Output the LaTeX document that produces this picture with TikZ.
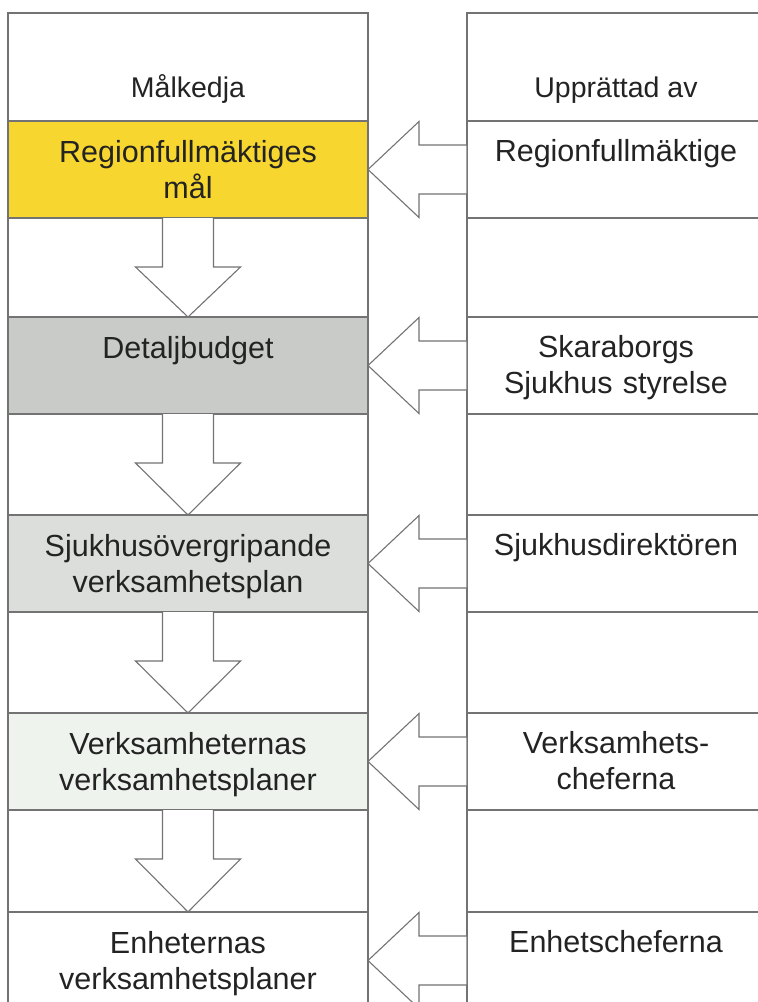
\documentclass[tikz,border=0pt]{standalone}
\usepackage{fontspec}
\setmainfont{Liberation Sans}
\usetikzlibrary{positioning, calc}
\definecolor{goalyellow}{RGB}{247,214,47}
\definecolor{budgetgray}{RGB}{201,203,200}
\definecolor{plangray}{RGB}{220,222,219}
\definecolor{planmint}{RGB}{238,243,238}
\definecolor{framegray}{RGB}{115,115,115}
\definecolor{textdark}{RGB}{35,35,35}

% block arrow down from one goal row to the next
\newcommand{\chaindown}[2]{%
  \draw[blockarr] ($(#1.south)+(-25.5,0)$) -- ++(0,49) -- ++(-27,0)
    -- (#2.north) -- ($(#1.south)+(52.5,49)$) -- ++(-27,0) -- ++(0,-49);}
% block arrow from the right column into a goal row
\newcommand{\chainleft}[2]{%
  \draw[blockarr] (#2.east) -- ++(51,-48) -- ++(0,23.5) -- ($(#1.west)+(0,-24.5)$)
    -- ($(#1.west)+(0,24.5)$) -- ($(#2.east)+(51,24.5)$) -- ++(0,23.5) -- cycle;}

\begin{document}
\begin{tikzpicture}[x=1pt, y=-1pt,
    colframe/.style={draw=framegray, line width=1.1pt, inner sep=0pt,
                     outer sep=0pt, anchor=north west},
    goalrow/.style={colframe, minimum width=360pt, minimum height=97pt},
    byrow/.style={colframe, minimum width=300pt, minimum height=97pt},
    txt/.style={anchor=base, align=center, text=textdark, inner sep=0pt,
                text width=345pt, font=\fontsize{30.5}{36.5}\selectfont},
    bytxt/.style={txt, text width=290pt},
    headtxt/.style={anchor=base, text=textdark, inner sep=0pt,
                    font=\fontsize{28.5}{34}\selectfont},
    blockarr/.style={draw=framegray, fill=white, line width=1.1pt}
]
  \useasboundingbox (0,0) rectangle (758,1002);
  \clip (0,0) rectangle (758,1002);

  % Column frames
  \node[colframe, minimum width=360pt, minimum height=1000pt] (colL) at (8,13) {};
  \node[colframe, minimum width=300pt, minimum height=1000pt] (colR) at (467,13) {};

  % Goal chain (left)
  \node[goalrow, fill=goalyellow] (goal1) at (8,121) {};
  \node[goalrow, fill=budgetgray] (goal2) at (8,317) {};
  \node[goalrow, fill=plangray] (goal3) at (8,515) {};
  \node[goalrow, fill=planmint] (goal4) at (8,713) {};
  \node[goalrow, fill=white] (goal5) at (8,912) {};

  % Set up by (right)
  \node[byrow] (by1) at (467,121) {};
  \node[byrow] (by2) at (467,317) {};
  \node[byrow] (by3) at (467,515) {};
  \node[byrow] (by4) at (467,713) {};
  \node[byrow] (by5) at (467,912) {};

  % Headers
  \node[headtxt] (hdrL) at (188,97) {Målkedja};
  \node[headtxt] (hdrR) at (616,97) {Upprättad av};

  % Texts
  \node[txt] (goaltxt1) at ($(goal1.north)+(0,41)$) {Regionfullmäktiges\\mål};
  \node[txt] (goaltxt2) at ($(goal2.north)+(0,41)$) {Detaljbudget};
  \node[txt] (goaltxt3) at ($(goal3.north)+(0,41)$) {Sjukhusövergripande\\verksamhetsplan};
  \node[txt] (goaltxt4) at ($(goal4.north)+(0,41)$) {Verksamheternas\\verksamhetsplaner};
  \node[txt] (goaltxt5) at ($(goal5.north)+(0,41)$) {Enheternas\\verksamhetsplaner};

  \node[bytxt] (bytxt1) at ($(by1.north)+(-1,40)$) {Regionfullmäktige};
  \node[bytxt] (bytxt2) at ($(by2.north)+(-1,40)$) {Skaraborgs\\Sjukhus styrelse};
  \node[bytxt] (bytxt3) at ($(by3.north)+(-1,40)$) {Sjukhusdirektören};
  \node[bytxt] (bytxt4) at ($(by4.north)+(-1,40)$) {Verksamhets-\\cheferna};
  \node[bytxt] (bytxt5) at ($(by5.north)+(-1,40)$) {Enhetscheferna};

  % Arrows
  \chaindown{goal1}{goal2}
  \chaindown{goal2}{goal3}
  \chaindown{goal3}{goal4}
  \chaindown{goal4}{goal5}
  \chainleft{by1}{goal1}
  \chainleft{by2}{goal2}
  \chainleft{by3}{goal3}
  \chainleft{by4}{goal4}
  \chainleft{by5}{goal5}
\end{tikzpicture}
\end{document}
